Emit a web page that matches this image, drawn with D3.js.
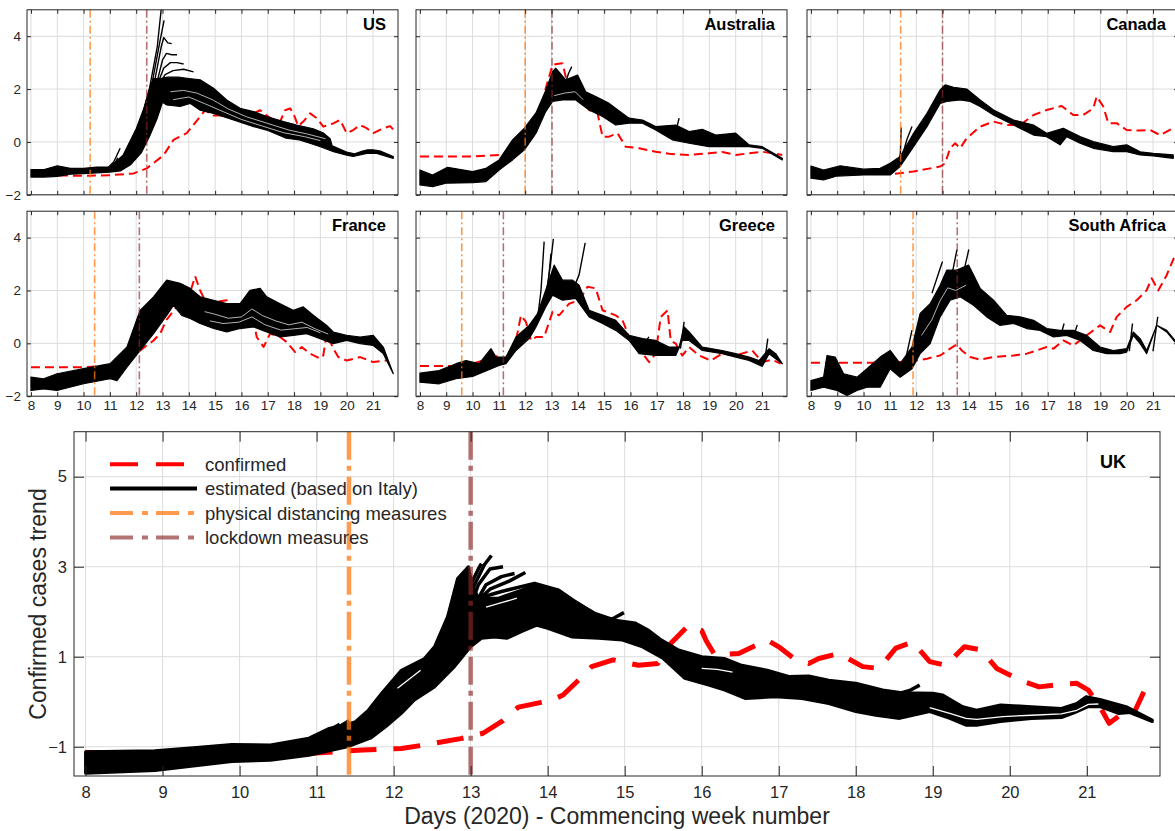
<!DOCTYPE html>
<html><head><meta charset="utf-8">
<script src="https://cdn.jsdelivr.net/npm/d3@7"></script>
<style>body{margin:0;background:#fff} svg{display:block}</style>
</head><body>
<svg id="chart" width="1175" height="831"></svg>
<script>
// ---------- tick labels ----------
const weekTicks = [8,9,10,11,12,13,14,15,16,17,18,19,20,21];
const smallYTicks = [-2,0,2,4];
const ukYTicks = [-1,1,3,5];
const countries = ["US","Australia","Canada","France","Greece","South Africa","UK"];
const distancingWeek = [10.25, 12.0, 11.41, 10.42, 9.59, 11.88, 11.42];
const lockdownWeek   = [12.4, 13.02, 13.0, 12.12, 11.17, 13.56, 13.0];

// ---------- US ----------
const usConfirmed = [[8.0,-1.27],[8.99,-1.27],[10.0,-1.28],[11.01,-1.26],[11.9,-1.19],[12.4,-1.0],[13.04,-0.5],[13.42,0.08],[13.92,0.33],[14.43,0.96],[14.62,1.2],[14.94,1.0],[15.44,1.0],[15.95,0.9],[16.46,1.08],[16.71,1.2],[16.96,1.0],[17.22,0.83],[17.47,0.77],[17.66,1.2],[17.85,1.27],[17.97,1.08],[18.16,0.6],[18.35,0.77],[18.61,1.08],[18.86,0.9],[19.11,0.58],[19.49,0.7],[19.75,0.83],[20.0,0.33],[20.25,0.45],[20.5,0.64],[20.76,0.52],[21.01,0.33],[21.39,0.52],[21.65,0.6],[21.84,0.39]];
const usLow = [[8.0,-1.33],[8.5,-1.33],[9.0,-1.3],[9.5,-1.22],[10.0,-1.2],[10.5,-1.17],[11.0,-1.14],[11.4,-1.1],[11.8,-0.85],[12.2,-0.4],[12.5,0.2],[12.8,0.9],[13.0,1.5],[13.16,1.4],[13.67,1.34],[14.05,1.46],[14.43,1.2],[14.94,1.08],[15.7,0.83],[16.46,0.58],[16.96,0.45],[17.7,0.14],[18.2,0.08],[18.6,-0.05],[19.0,-0.18],[19.5,-0.37],[20.0,-0.5],[20.25,-0.55],[20.76,-0.43],[21.14,-0.43],[21.77,-0.62]];
const usHigh = [[8.0,-1.05],[8.5,-1.05],[9.0,-0.9],[9.5,-1.0],[10.0,-1.0],[10.5,-0.95],[11.0,-0.95],[11.5,-0.5],[12.0,0.5],[12.3,1.3],[12.5,2.0],[12.65,2.4],[12.9,2.4],[13.2,2.45],[13.6,2.45],[14.0,2.4],[14.43,2.35],[14.94,2.03],[15.44,1.59],[15.95,1.27],[16.46,1.15],[16.96,0.96],[17.6,0.77],[18.1,0.64],[18.73,0.5],[19.1,0.35],[19.37,0.12],[19.45,-0.15],[19.8,-0.3],[20.0,-0.38],[20.3,-0.45],[20.6,-0.35],[20.8,-0.3],[21.0,-0.3],[21.3,-0.35],[21.77,-0.55]];
const usSpikes = [
  [[12.2,0.9],[12.5,2.0],[12.8,3.6],[12.97,5.2]],
  [[12.3,1.0],[12.6,2.2],[12.9,3.8],[13.06,4.6]],
  [[12.4,1.0],[12.7,2.3],[12.95,3.6],[13.05,3.95],[13.2,3.75],[13.35,3.72]],
  [[12.5,1.1],[12.8,2.3],[13.0,3.1],[13.15,3.35],[13.35,3.3],[13.55,3.3]],
  [[12.55,1.0],[12.85,2.3],[13.05,2.8],[13.3,3.0],[13.55,3.0],[13.8,2.95]],
  [[12.6,1.0],[12.9,2.2],[13.1,2.55],[13.4,2.7],[13.8,2.75],[14.18,2.65]],
  [[10.9,-1.0],[11.15,-0.75],[11.39,-0.24]],
  [[10.95,-1.0],[11.2,-0.8],[11.3,-0.6]]
];
const usGaps = [
  [[13.3,1.9],[13.8,1.95],[14.3,1.85],[14.9,1.6],[15.5,1.25],[16.2,0.95],[17.0,0.7],[17.8,0.45],[18.5,0.3],[19.2,0.12]],
  [[13.4,1.6],[14.0,1.7],[14.6,1.45],[15.3,1.15],[16.0,0.85],[16.8,0.6],[17.6,0.35],[18.4,0.2],[19.0,0.05]]
];

// ---------- Australia ----------
const auConfirmed = [[8.0,-0.55],[10.0,-0.55],[11.01,-0.49],[11.65,-0.37],[11.97,-0.18],[12.41,0.33],[12.78,2.03],[13.04,2.91],[13.2,2.95],[13.42,2.98],[13.54,2.47],[13.92,1.97],[14.43,1.21],[14.75,1.08],[14.94,0.2],[15.19,0.2],[15.51,0.33],[15.82,-0.18],[16.33,-0.24],[16.96,-0.37],[17.47,-0.45],[18.23,-0.49],[18.99,-0.43],[19.49,-0.38],[20.0,-0.49],[20.51,-0.43],[21.01,-0.37],[21.77,-0.49]];
const auLow = [[8.0,-1.63],[8.48,-1.69],[8.99,-1.56],[10.0,-1.54],[10.51,-1.5],[11.01,-1.06],[11.52,-0.68],[11.97,-0.3],[12.41,0.33],[12.78,1.15],[13.04,1.53],[13.42,1.59],[13.92,1.59],[14.43,1.21],[14.94,0.96],[15.44,0.64],[15.95,0.71],[16.46,0.71],[16.96,0.45],[17.59,0.08],[18.23,-0.05],[18.99,-0.18],[19.49,-0.18],[20.0,-0.18],[20.51,-0.18],[21.01,-0.24],[21.77,-0.68]];
const auHigh = [[8.0,-1.06],[8.48,-1.25],[9.05,-0.96],[10.0,-1.12],[10.51,-1.0],[11.01,-0.68],[11.52,0.08],[11.97,0.52],[12.41,1.1],[12.78,1.95],[13.04,2.66],[13.16,2.79],[13.54,2.35],[13.99,2.53],[14.3,1.9],[14.68,1.72],[15.19,1.46],[15.7,1.08],[15.95,0.9],[16.46,0.83],[16.96,0.58],[17.72,0.64],[18.23,0.39],[18.73,0.48],[19.24,0.26],[20.0,0.33],[20.51,-0.11],[21.01,-0.18],[21.77,-0.62]];
const auSpikes = [[[13.55,2.3],[13.65,2.6],[13.77,2.85]],[[17.7,0.3],[17.85,0.9]]];
const auGaps = [[[13.1,1.75],[13.5,1.85],[13.9,1.9],[14.2,1.6]]];

// ---------- Canada ----------
const caConfirmed = [[8.0,-1.2],[10.0,-1.19],[11.14,-1.21],[11.9,-1.12],[12.53,-1.0],[12.91,-0.93],[13.1,-0.81],[13.29,-0.24],[13.48,-0.05],[13.67,-0.24],[13.92,0.14],[14.43,0.58],[14.94,0.77],[15.44,0.64],[15.95,0.64],[16.46,1.02],[16.96,1.21],[17.53,1.36],[17.97,1.02],[18.35,1.02],[18.73,1.27],[18.86,1.72],[19.11,1.34],[19.3,0.71],[19.62,0.71],[20.0,0.45],[20.51,0.43],[20.89,0.45],[21.27,0.26],[21.77,0.52]];
const caLow = [[8.0,-1.37],[8.48,-1.44],[8.99,-1.29],[10.0,-1.25],[11.01,-1.25],[11.39,-0.93],[11.9,-0.18],[12.41,0.58],[12.91,1.46],[13.16,1.53],[13.67,1.59],[14.05,1.53],[14.43,1.34],[14.94,1.02],[15.7,0.64],[16.46,0.26],[16.96,0.2],[17.47,-0.11],[17.72,0.2],[18.23,-0.05],[18.73,-0.24],[19.49,-0.37],[20.0,-0.37],[20.51,-0.49],[21.01,-0.53],[21.77,-0.62]];
const caHigh = [[8.0,-0.91],[8.48,-1.06],[9.11,-0.9],[10.0,-1.03],[10.63,-1.0],[11.01,-0.81],[11.39,-0.55],[11.9,0.33],[12.41,1.08],[12.91,1.97],[13.1,2.16],[13.42,2.07],[13.92,2.0],[14.43,1.59],[14.94,1.21],[15.7,0.83],[16.46,0.64],[16.96,0.33],[17.59,0.52],[18.23,0.2],[18.73,0.01],[19.49,-0.18],[20.0,-0.11],[20.51,-0.37],[21.01,-0.43],[21.77,-0.49]];
const caSpikes = [[[11.3,-0.95],[11.4,-0.4],[11.43,0.55]],[[11.45,-0.6],[11.65,0.1],[11.84,0.58]]];
const caGaps = [];

// ---------- France ----------
const frConfirmed = [[8.0,-0.9],[10.0,-0.9],[11.01,-0.84],[11.14,-0.77],[12.15,-0.27],[12.66,0.11],[12.91,0.37],[13.16,0.9],[13.54,1.38],[13.92,1.5],[14.24,2.54],[14.43,2.0],[14.68,1.5],[15.06,1.57],[15.44,1.63],[15.7,1.13],[16.08,1.06],[16.46,0.87],[16.58,0.24],[16.84,-0.14],[17.09,0.37],[17.47,0.24],[17.72,0.05],[18.04,-0.33],[18.29,-0.14],[18.61,-0.39],[18.99,-0.58],[19.11,-0.46],[19.24,0.37],[19.49,-0.2],[19.68,-0.52],[20.0,-0.65],[20.51,-0.52],[21.01,-0.71],[21.52,-0.65]];
const frLow = [[8.0,-1.78],[8.48,-1.72],[8.99,-1.78],[10.0,-1.53],[11.01,-1.34],[11.27,-1.41],[11.65,-0.9],[12.15,-0.27],[12.66,0.37],[13.16,1.06],[13.42,1.44],[13.73,1.06],[14.05,0.94],[14.43,0.75],[14.94,0.56],[15.44,0.43],[15.95,0.56],[16.46,0.62],[16.96,0.43],[17.47,0.24],[17.97,0.3],[18.48,0.37],[18.99,0.18],[19.49,-0.01],[20.0,0.11],[20.51,-0.01],[21.01,-0.08],[21.39,-0.39],[21.77,-1.15]];
const frHigh = [[8.0,-1.28],[8.48,-1.34],[8.99,-1.15],[10.0,-0.96],[11.01,-0.77],[11.65,-0.14],[12.15,1.25],[12.66,1.76],[13.16,2.39],[13.67,2.27],[14.05,2.08],[14.43,1.76],[14.94,1.63],[15.44,1.5],[15.95,1.5],[16.33,2.01],[16.71,2.08],[16.96,1.76],[17.47,1.5],[17.97,1.25],[18.35,1.38],[18.73,1.06],[19.24,0.68],[19.49,0.43],[20.0,0.3],[20.51,0.24],[21.01,0.3],[21.39,-0.14],[21.77,-1.15]];
const frSpikes = [];
const frGaps = [
  [[14.6,1.2],[15.0,1.1],[15.5,0.95],[16.0,1.0],[16.4,1.3],[16.8,1.05],[17.3,0.85],[17.8,0.7],[18.3,0.8],[18.8,0.55],[19.3,0.35]],
  [[14.8,0.85],[15.3,0.75],[15.9,0.8],[16.4,1.0],[16.9,0.7],[17.5,0.5],[18.0,0.55],[18.5,0.6],[19.0,0.4]]
];

// ---------- Greece ----------
const grConfirmed = [[8.0,-0.86],[9.37,-0.86],[10.0,-0.77],[10.63,-0.58],[11.01,-0.46],[11.2,-0.65],[11.65,0.11],[11.84,1.06],[12.03,0.81],[12.22,0.11],[12.41,0.24],[12.72,0.24],[13.04,1.19],[13.29,1.06],[13.67,1.5],[14.05,1.63],[14.37,2.14],[14.68,2.08],[14.94,1.25],[15.44,1.06],[15.7,0.87],[15.95,0.24],[16.33,-0.2],[16.71,-0.71],[16.96,-0.39],[17.15,1.0],[17.41,1.25],[17.53,0.11],[17.72,-0.01],[17.97,-0.46],[18.23,-0.14],[18.61,-0.46],[19.05,-0.65],[19.49,-0.39],[20.0,-0.46],[20.63,-0.27],[21.01,-0.71],[21.39,-0.62],[21.71,-0.77]];
const grLow = [[8.0,-1.47],[8.73,-1.53],[9.37,-1.34],[10.0,-1.25],[11.01,-0.84],[11.27,-0.77],[11.65,-0.27],[12.15,0.18],[12.41,0.62],[12.78,1.38],[13.04,1.82],[13.42,1.63],[13.92,1.7],[14.43,1.0],[14.94,0.75],[15.44,0.49],[15.95,0.11],[16.33,-0.39],[16.96,-0.46],[17.72,-0.46],[17.97,0.11],[18.23,0.11],[18.73,-0.27],[19.49,-0.39],[20.0,-0.52],[20.51,-0.65],[21.01,-0.87],[21.27,-0.39],[21.52,-0.58],[21.77,-0.77]];
const grHigh = [[8.0,-1.13],[8.73,-1.03],[9.37,-0.77],[9.75,-0.65],[10.25,-0.77],[10.7,-0.2],[10.89,-0.52],[11.27,-0.52],[11.65,0.24],[12.15,0.68],[12.47,1.13],[12.78,2.01],[13.1,2.96],[13.42,2.39],[13.8,2.39],[14.05,2.2],[14.43,1.25],[14.94,1.06],[15.44,0.87],[15.95,0.3],[16.46,0.18],[16.96,0.11],[17.47,-0.14],[17.85,-0.14],[18.04,0.62],[18.23,0.43],[18.73,-0.14],[19.49,-0.27],[20.0,-0.39],[20.51,-0.52],[20.89,-0.65],[21.27,-0.2],[21.52,-0.39],[21.77,-0.77]];
const grSpikes = [[[12.45,0.75],[12.6,2.0],[12.72,3.85]],[[12.8,1.9],[12.95,2.9],[13.07,3.95]],[[12.85,2.0],[12.98,3.4]],[[13.85,2.1],[14.05,2.6],[14.28,3.8]],[[17.9,-0.2],[18.04,0.81]],[[21.1,-0.7],[21.22,0.18]],[[16.5,-0.1],[16.7,0.25]]];
const grGaps = [];

// ---------- South Africa ----------
const saConfirmed = [[8.0,-0.73],[11.01,-0.73],[11.9,-0.67],[12.41,-0.58],[12.91,-0.46],[13.29,-0.2],[13.54,-0.04],[13.73,-0.27],[14.05,-0.52],[14.43,-0.62],[14.94,-0.52],[15.7,-0.46],[16.2,-0.39],[16.58,-0.27],[16.96,-0.14],[17.22,-0.2],[17.59,0.11],[17.97,-0.08],[18.48,0.3],[18.99,0.68],[19.37,0.43],[19.62,1.0],[20.0,1.38],[20.38,1.63],[20.76,2.01],[20.95,2.46],[21.2,2.0],[21.52,2.58],[21.84,3.34]];
const saLow = [[8.0,-1.78],[8.48,-1.66],[8.99,-1.78],[9.37,-1.97],[9.75,-1.78],[10.13,-1.66],[10.63,-1.66],[11.01,-0.96],[11.39,-1.28],[11.84,-0.96],[12.15,-0.39],[12.53,-0.01],[12.91,1.0],[13.29,1.63],[13.67,1.76],[14.18,1.44],[14.68,1.0],[15.19,0.68],[15.7,0.75],[16.2,0.56],[16.71,0.49],[17.22,0.24],[17.72,0.3],[18.23,0.11],[18.73,-0.27],[19.24,-0.39],[19.75,-0.39],[20.0,-0.33],[20.25,0.3],[20.51,-0.01],[20.76,-0.39],[21.14,0.68],[21.52,0.43],[21.84,0.05]];
const saHigh = [[8.0,-1.41],[8.48,-1.28],[8.61,-0.46],[8.92,-0.52],[9.24,-1.15],[9.75,-1.28],[10.13,-0.96],[10.63,-0.52],[11.01,-0.27],[11.39,-0.77],[11.84,-0.14],[12.15,1.13],[12.53,1.5],[12.91,2.2],[13.16,2.77],[13.54,2.77],[13.99,2.96],[14.43,2.08],[14.94,1.63],[15.44,1.06],[15.95,1.0],[16.46,0.87],[16.96,0.56],[17.47,0.49],[17.97,0.49],[18.48,0.3],[18.99,-0.14],[19.49,-0.27],[20.0,-0.2],[20.25,0.43],[20.51,0.18],[20.76,-0.27],[21.14,0.68],[21.52,0.49],[21.84,0.11]];
const saSpikes = [[[12.6,1.9],[12.9,2.8],[13.0,3.1]],[[13.2,2.5],[13.4,2.8],[13.55,3.55]],[[13.6,2.7],[13.85,2.9],[14.0,3.55]],[[11.6,-0.6],[11.84,0.5]],[[20.1,-0.3],[20.22,0.75]],[[21.0,-0.3],[21.18,1.0]],[[17.5,0.3],[17.62,0.75]],[[18.0,0.3],[18.12,0.7]]];
const saGaps = [[[12.2,0.3],[12.6,0.9],[12.9,1.6],[13.2,2.1],[13.5,2.0],[13.9,2.2]]];

// ---------- UK ----------
const ukConfirmed = [[8.0,-1.13],[8.9,-1.13],[9.9,-1.15],[10.9,-1.15],[11.6,-1.07],[12.1,-1.04],[12.4,-0.96],[12.87,-0.82],[13.16,-0.7],[13.42,-0.42],[13.62,-0.12],[13.9,-0.02],[14.06,0.04],[14.2,0.15],[14.4,0.48],[14.57,0.78],[14.85,0.93],[15.18,0.81],[15.43,0.85],[15.6,1.3],[15.83,1.7],[16.0,1.58],[16.06,1.35],[16.17,1.04],[16.48,1.07],[16.85,1.37],[17.0,1.22],[17.22,0.93],[17.39,0.85],[17.52,0.96],[17.78,1.07],[18.09,0.78],[18.3,0.74],[18.52,1.19],[18.74,1.33],[18.96,0.89],[19.17,0.81],[19.41,1.22],[19.63,1.15],[19.83,0.74],[20.13,0.48],[20.38,0.33],[20.67,0.39],[20.87,0.41],[21.02,0.26],[21.17,-0.11],[21.29,-0.48],[21.46,-0.26],[21.59,-0.33],[21.74,0.22]];
const ukLow = [[8.0,-1.59],[8.9,-1.53],[9.9,-1.33],[10.4,-1.3],[10.9,-1.19],[11.4,-1.0],[11.7,-0.81],[11.9,-0.55],[12.1,-0.26],[12.27,0.04],[12.53,0.33],[12.79,0.78],[13.0,1.22],[13.14,1.41],[13.31,1.44],[13.47,1.41],[13.66,1.56],[13.86,1.7],[14.0,1.63],[14.31,1.44],[14.66,1.41],[14.97,1.37],[15.23,1.22],[15.5,0.96],[15.78,0.52],[16.09,0.37],[16.3,0.26],[16.57,0.07],[16.96,0.11],[17.3,0.07],[17.65,-0.04],[18.0,-0.22],[18.26,-0.3],[18.57,-0.37],[18.96,-0.22],[19.22,-0.37],[19.43,-0.52],[19.57,-0.52],[19.88,-0.44],[20.28,-0.37],[20.67,-0.35],[20.82,-0.26],[21.02,-0.11],[21.17,-0.11],[21.41,-0.26],[21.56,-0.24],[21.85,-0.44]];
const ukHigh = [[8.0,-1.11],[8.9,-1.09],[9.4,-1.02],[9.9,-0.95],[10.4,-0.96],[10.9,-0.81],[11.15,-0.6],[11.5,-0.45],[11.67,-0.19],[11.85,0.2],[12.1,0.7],[12.4,0.96],[12.53,1.22],[12.7,1.89],[12.83,2.74],[12.97,3.0],[13.02,2.6],[13.1,2.3],[13.36,2.3],[13.66,2.48],[13.83,2.61],[14.14,2.48],[14.36,2.22],[14.62,1.96],[14.88,1.81],[15.14,1.75],[15.3,1.6],[15.48,1.37],[15.7,1.15],[16.0,1.0],[16.3,0.96],[16.52,0.81],[16.85,0.7],[17.13,0.56],[17.39,0.57],[17.65,0.48],[18.0,0.41],[18.35,0.26],[18.6,0.2],[19.0,0.19],[19.13,0.15],[19.39,-0.11],[19.57,-0.19],[19.88,-0.07],[20.28,-0.11],[20.67,-0.15],[20.87,-0.04],[20.99,0.11],[21.17,0.05],[21.51,-0.11],[21.85,-0.41]];
const ukSpikes = [
  [[12.75,1.5],[12.9,2.4],[12.97,3.0]],
  [[12.85,1.8],[13.0,2.6],[13.1,2.95],[13.14,3.07]],
  [[12.9,1.8],[13.05,2.6],[13.18,3.05],[13.27,3.25]],
  [[12.95,1.9],[13.1,2.6],[13.25,2.95],[13.42,3.0]],
  [[13.0,2.0],[13.2,2.6],[13.4,2.78],[13.57,2.85]],
  [[13.0,2.1],[13.25,2.5],[13.5,2.68],[13.71,2.87]],
  [[13.1,2.3],[13.4,2.45],[13.83,2.63],[14.14,2.48],[14.36,2.22],[14.7,1.85]],
  [[14.7,1.8],[14.85,1.85],[14.99,1.98]],
  [[18.5,0.15],[18.7,0.25],[18.83,0.37]],
  [[11.0,-0.75],[11.2,-0.6],[11.3,-0.5]],
  [[11.15,-0.7],[11.3,-0.55],[11.42,-0.42]]
];
const ukGaps = [
  [[18.96,-0.13],[19.22,-0.26],[19.43,-0.37],[19.57,-0.39],[19.91,-0.33],[20.28,-0.3],[20.67,-0.27],[20.87,-0.19],[21.02,-0.06],[21.15,-0.05]],
  [[16.0,0.74],[16.2,0.72],[16.4,0.66]],
  [[12.05,0.3],[12.2,0.5],[12.35,0.7]],
  [[13.2,2.1],[13.4,2.2],[13.6,2.3]]
];

const legendLabels = ["confirmed","estimated (based on Italy)","physical distancing measures","lockdown measures"];

// ---------- drawing ----------
const FONT = "'Liberation Sans', Arial, Helvetica, sans-serif";
const TXT = "#262626";
const RED = "#ff0000";
const ORANGE = "rgb(255,120,20)";
const BROWN = "rgb(140,40,40)";
const xDomain = [7.85, 21.95];
const svg = d3.select("#chart");

const data = [
  {c:usConfirmed, lo:usLow, hi:usHigh, sp:usSpikes, gp:usGaps},
  {c:auConfirmed, lo:auLow, hi:auHigh, sp:auSpikes, gp:auGaps},
  {c:caConfirmed, lo:caLow, hi:caHigh, sp:caSpikes, gp:caGaps},
  {c:frConfirmed, lo:frLow, hi:frHigh, sp:frSpikes, gp:frGaps},
  {c:grConfirmed, lo:grLow, hi:grHigh, sp:grSpikes, gp:grGaps},
  {c:saConfirmed, lo:saLow, hi:saHigh, sp:saSpikes, gp:saGaps},
  {c:ukConfirmed, lo:ukLow, hi:ukHigh, sp:ukSpikes, gp:ukGaps}
];

const colLeft = [27, 416, 807];
const rowTop = [9.8, 211.2];

function drawPanel(i, layout) {
  const L = layout;
  const d = data[i];
  const g = svg.append("g").attr("transform", `translate(${L.x0},${L.y0})`);
  const x = d3.scaleLinear().domain(xDomain).range([0, L.w]);
  const y = d3.scaleLinear().domain(L.yDomain).range([L.h, 0]);
  const clipId = "clip" + i;
  g.append("clipPath").attr("id", clipId).append("rect").attr("width", L.w).attr("height", L.h);

  g.append("rect").attr("width", L.w).attr("height", L.h).attr("fill", "#fff");
  // grid
  g.append("g").selectAll("line").data(weekTicks).join("line")
    .attr("x1", v => x(v)).attr("x2", v => x(v)).attr("y1", 0).attr("y2", L.h)
    .attr("stroke", "#dcdcdc").attr("stroke-width", 1);
  g.append("g").selectAll("line").data(L.yTicks).join("line")
    .attr("y1", v => y(v)).attr("y2", v => y(v)).attr("x1", 0).attr("x2", L.w)
    .attr("stroke", "#dcdcdc").attr("stroke-width", 1);

  const plot = g.append("g").attr("clip-path", `url(#${clipId})`);
  const line = d3.line().x(p => x(p[0])).y(p => y(p[1]));

  // confirmed (drawn beneath the estimates)
  plot.append("path").attr("d", line(d.c)).attr("fill", "none")
    .attr("stroke", RED).attr("stroke-width", L.redW)
    .attr("stroke-dasharray", L.redDash).attr("stroke-linejoin", "round");

  // estimated bundle
  plot.append("path")
    .attr("d", line(d.hi.concat(d.lo.slice().reverse())) + "Z")
    .attr("fill", "#000").attr("stroke", "#000")
    .attr("stroke-width", L.bandStroke).attr("stroke-linejoin", "round");
  // thin white gaps between individual estimate curves
  plot.append("g").selectAll("path").data(d.gp).join("path")
    .attr("d", s => line(s)).attr("fill", "none").attr("stroke", "#fff")
    .attr("stroke-width", L.gapW).attr("stroke-linejoin", "round");
  plot.append("g").selectAll("path").data(d.sp).join("path")
    .attr("d", s => line(s)).attr("fill", "none").attr("stroke", "#000")
    .attr("stroke-width", L.spikeW).attr("stroke-linejoin", "round");

  // measures
  [[distancingWeek[i], ORANGE, 0.75], [lockdownWeek[i], BROWN, 0.65]].forEach(([w, col, op]) => {
    plot.append("line").attr("x1", x(w)).attr("x2", x(w)).attr("y1", 0).attr("y2", L.h)
      .attr("stroke", col).attr("stroke-opacity", op).attr("stroke-width", L.vW)
      .attr("stroke-dasharray", L.vDash);
  });

  // axes with inward ticks
  const tl = L.tickLen;
  const styleAx = (sel) => {
    sel.select(".domain").remove();
    sel.selectAll(".tick line").attr("stroke", TXT).attr("stroke-width", 1);
    sel.selectAll("text").attr("fill", TXT).style("font-family", FONT).style("font-size", L.tickFont + "px");
  };
  const axB = d3.axisBottom(x).tickValues(weekTicks).tickSize(-tl).tickPadding(L.xPad)
    .tickFormat(L.showX ? d3.format("d") : () => "");
  g.append("g").attr("transform", `translate(0,${L.h})`).call(axB).call(styleAx);
  g.append("g").call(d3.axisTop(x).tickValues(weekTicks).tickSize(-tl).tickFormat(() => "")).call(styleAx);
  const axL = d3.axisLeft(y).tickValues(L.yTicks).tickSize(-tl).tickPadding(L.yPad)
    .tickFormat(L.showY ? d3.format("d") : () => "");
  g.append("g").call(axL).call(styleAx);
  g.append("g").attr("transform", `translate(${L.w},0)`)
    .call(d3.axisRight(y).tickValues(L.yTicks).tickSize(-tl).tickFormat(() => "")).call(styleAx);

  g.append("rect").attr("width", L.w).attr("height", L.h).attr("fill", "none")
    .attr("stroke", TXT).attr("stroke-width", 1);

  g.append("text").attr("x", L.w - L.titleRight).attr("y", L.titleY)
    .attr("text-anchor", "end").attr("fill", "#000")
    .style("font-family", FONT).style("font-weight", "bold").style("font-size", L.titleFont + "px")
    .text(countries[i]);
  return {g, x, y};
}

// small multiples
for (let i = 0; i < 6; i++) {
  const r = Math.floor(i / 3), c = i % 3;
  drawPanel(i, {
    x0: colLeft[c], y0: rowTop[r], w: 371, h: 185, yDomain: [-2, 5], yTicks: smallYTicks,
    showX: r === 1, showY: c === 0, tickLen: 4, tickFont: 13.5, xPad: 4.5, yPad: 6,
    bandStroke: 1.2, spikeW: 1.4, gapW: 0.7, redW: 2, redDash: "9,5", vW: 1.6, vDash: "8,3,2,3",
    titleRight: 12, titleY: 20, titleFont: 16.5
  });
}

// UK
drawPanel(6, {
  x0: 74, y0: 431.7, w: 1086, h: 344.3, yDomain: [-1.65, 6], yTicks: ukYTicks,
  showX: true, showY: true, tickLen: 10, tickFont: 16.5, xPad: 10, yPad: 7,
  bandStroke: 3, spikeW: 3.5, gapW: 1.3, redW: 5, redDash: "27,17", vW: 4.5, vDash: "28,6,5,6",
  titleRight: 34, titleY: 36.6, titleFont: 18
});

// legend
const legendStyles = [
  {stroke: RED, op: 1, dash: "28,18"},
  {stroke: "#000", op: 1, dash: null},
  {stroke: ORANGE, op: 0.75, dash: "23,9,6,8"},
  {stroke: BROWN, op: 0.65, dash: "23,9,6,8"}
];
const leg = svg.append("g");
legendLabels.forEach((lab, k) => {
  const ly = 464.2 + k * 24.4;
  const s = legendStyles[k];
  leg.append("line").attr("x1", 110).attr("x2", 197).attr("y1", ly).attr("y2", ly)
    .attr("stroke", s.stroke).attr("stroke-opacity", s.op).attr("stroke-width", 4)
    .attr("stroke-dasharray", s.dash);
  leg.append("text").attr("x", 205).attr("y", ly + 6.6).attr("fill", TXT)
    .style("font-family", FONT).style("font-size", "18.5px").text(lab);
});

// axis titles
svg.append("text").attr("x", 617).attr("y", 824).attr("text-anchor", "middle")
  .attr("fill", TXT).style("font-family", FONT).style("font-size", "23px")
  .text("Days (2020) - Commencing week number");
svg.append("text").attr("transform", "translate(46,604) rotate(-90)").attr("text-anchor", "middle")
  .attr("fill", TXT).style("font-family", FONT).style("font-size", "23px")
  .text("Confirmed cases trend");
</script>
</body></html>
